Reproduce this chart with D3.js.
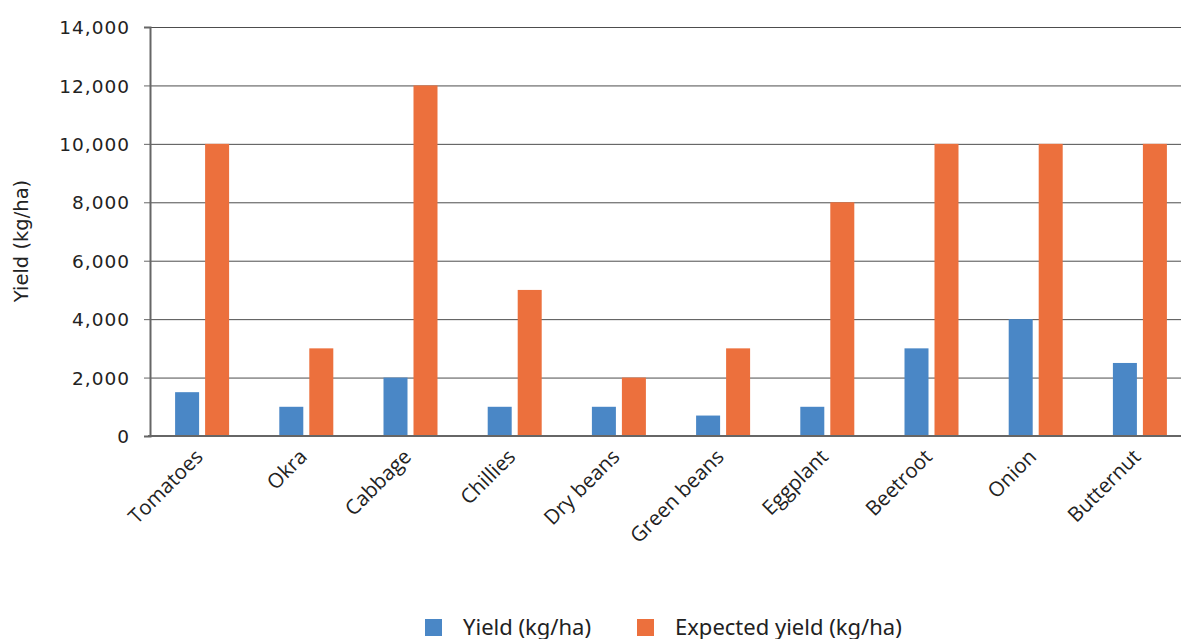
<!DOCTYPE html>
<html>
<head>
<meta charset="utf-8">
<script src="https://cdn.jsdelivr.net/npm/d3@7"></script>
<style>
  body { margin: 0; background: #fff; }
  svg { display: block; }
</style>
</head>
<body>
<svg width="1181" height="639"></svg>
<script>
var crops = ["Tomatoes", "Okra", "Cabbage", "Chillies", "Dry beans", "Green beans", "Eggplant", "Beetroot", "Onion", "Butternut"];
var yieldActual = [1500, 1000, 2000, 1000, 1000, 700, 1000, 3000, 4000, 2500];
var yieldExpected = [10000, 3000, 12000, 5000, 2000, 3000, 8000, 10000, 10000, 10000];
var yTicks = [0, 2000, 4000, 6000, 8000, 10000, 12000, 14000];
var seriesNames = ["Yield (kg/ha)", "Expected yield (kg/ha)"];
var colors = ["#4a87c6", "#ec703d"];

var svg = d3.select("svg"),
    width = +svg.attr("width"),
    height = +svg.attr("height");

var x = d3.scaleBand()
    .domain(crops)
    .range([150, 1192]);

var y = d3.scaleLinear()
    .domain([0, 14000])
    .range([436, 27]);

var fmt = d3.format(",");

// gridlines
svg.append("g")
  .selectAll("line")
  .data(yTicks.slice(1))
  .enter().append("line")
    .attr("x1", 150)
    .attr("x2", width)
    .attr("y1", function(d) { return y(d) + 0.5; })
    .attr("y2", function(d) { return y(d) + 0.5; })
    .attr("stroke", "#4d4d4d")
    .attr("stroke-width", 1);

// bars
var bw = 24;
svg.append("g")
  .selectAll("rect")
  .data(crops)
  .enter().append("rect")
    .attr("x", function(d) { return x(d) + x.bandwidth() / 2 - 27; })
    .attr("y", function(d, i) { return y(yieldActual[i]); })
    .attr("width", bw)
    .attr("height", function(d, i) { return y(0) - y(yieldActual[i]); })
    .attr("fill", colors[0]);

svg.append("g")
  .selectAll("rect")
  .data(crops)
  .enter().append("rect")
    .attr("x", function(d) { return x(d) + x.bandwidth() / 2 + 3; })
    .attr("y", function(d, i) { return y(yieldExpected[i]); })
    .attr("width", bw)
    .attr("height", function(d, i) { return y(0) - y(yieldExpected[i]); })
    .attr("fill", colors[1]);

// y axis
var yAxis = svg.append("g")
    .attr("transform", "translate(150,0)")
    .call(d3.axisLeft(y).tickValues(yTicks).tickFormat(fmt).tickSize(6).tickPadding(14));
yAxis.select(".domain").attr("stroke", "#666").attr("stroke-width", 2);
yAxis.selectAll(".tick line").attr("stroke", "#666");
yAxis.selectAll("text")
    .attr("fill", "#222")
    .attr("dy", "0.36em")
    .style("font-family", "'DejaVu Sans', sans-serif")
    .style("font-size", "18.5px")
    .style("letter-spacing", "1px");

// baseline
svg.append("line")
    .attr("x1", 148).attr("x2", width)
    .attr("y1", y(0)).attr("y2", y(0))
    .attr("stroke", "#666")
    .attr("stroke-width", 2);

// category labels
svg.append("g")
  .selectAll("text")
  .data(crops)
  .enter().append("text")
    .attr("transform", function(d) { return "translate(" + (x(d) + x.bandwidth() / 2 + 2) + ",458) rotate(-45)"; })
    .attr("text-anchor", "end")
    .attr("fill", "#222")
    .style("font-family", "'Open Sans', 'Noto Sans', sans-serif")
    .style("font-size", "20.5px")
    .text(function(d) { return d; });

// y label
svg.append("text")
    .attr("transform", "translate(28,241) rotate(-90)")
    .attr("text-anchor", "middle")
    .attr("fill", "#222")
    .style("font-family", "'DejaVu Sans', sans-serif")
    .style("font-size", "19.5px")
    .text("Yield (kg/ha)");

// legend
var legendX = [425, 637];
var legend = svg.append("g")
  .selectAll("g")
  .data(seriesNames)
  .enter().append("g")
    .attr("transform", function(d, i) { return "translate(" + legendX[i] + ",619)"; });
legend.append("rect")
    .attr("width", 17)
    .attr("height", 17)
    .attr("fill", function(d, i) { return colors[i]; });
legend.append("text")
    .attr("x", 38)
    .attr("y", 16)
    .attr("fill", "#222")
    .style("font-family", "'Noto Sans', sans-serif")
    .style("font-size", "22px")
    .text(function(d) { return d; });
</script>
</body>
</html>
